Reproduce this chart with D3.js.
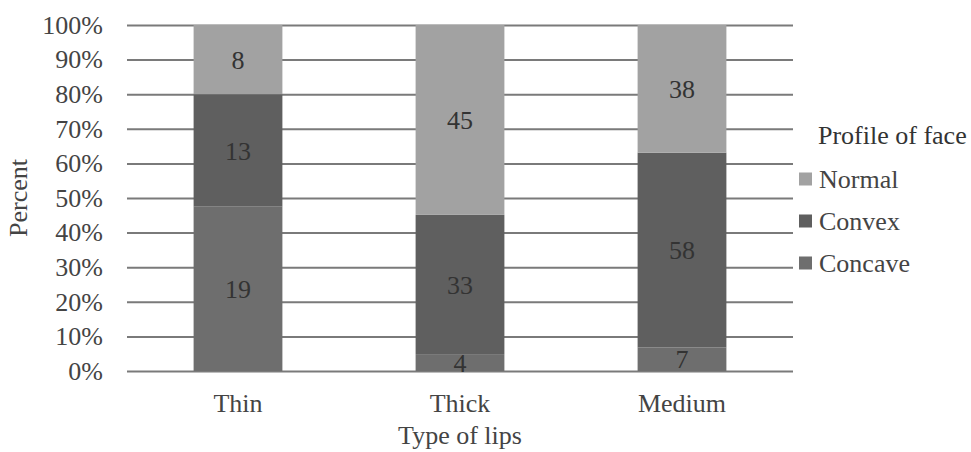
<!DOCTYPE html>
<html><head><meta charset="utf-8">
<script src="https://cdn.jsdelivr.net/npm/d3@7"></script>
<style>body{margin:0;background:#fff}svg{display:block}text{font-family:"Liberation Serif","Times New Roman",serif}</style>
</head><body>
<svg id="c" width="971" height="452"></svg>
<script>
const categories = ["Thin", "Thick", "Medium"];
const seriesNames = ["Concave", "Convex", "Normal"];
const concave = [19, 4, 7];
const convex = [13, 33, 58];
const normal = [8, 45, 38];
const tickLabels = ["0%","10%","20%","30%","40%","50%","60%","70%","80%","90%","100%"];
const colors = {Concave: "#6e6e6e", Convex: "#5f5f5f", Normal: "#a2a2a2"};

(function(){
const svg = d3.select("#c");
const pL = 127, pR = 793, pT = 25, pB = 371;
const fs = 26;
const x = d3.scaleBand().domain(categories).range([pL, pR]).paddingInner(0.6).paddingOuter(0.3);
const y = d3.scaleLinear().domain([0, 1]).range([pB, pT]);

const rows = categories.map((c, i) => ({cat: c, Concave: concave[i], Convex: convex[i], Normal: normal[i]}));
const stack = d3.stack().keys(seriesNames).offset(d3.stackOffsetExpand);
const layers = stack(rows);

const yAxis = d3.axisLeft(y).tickValues(d3.range(0, 1.0001, 0.1)).tickFormat((d, i) => tickLabels[i]).tickSize(-(pR - pL)).tickPadding(24);
const ga = svg.append("g").attr("transform", `translate(${pL},0)`).call(yAxis);
ga.select(".domain").remove();
ga.selectAll(".tick line").attr("stroke", "#7a7a7a").attr("stroke-width", 2);
ga.selectAll(".tick text").attr("font-size", fs).attr("fill", "#444").attr("x", -24);

layers.forEach(layer => {
  svg.append("g").selectAll("rect").data(layer).join("rect")
    .attr("x", d => x(d.data.cat))
    .attr("width", x.bandwidth())
    .attr("y", d => y(d[1]))
    .attr("height", d => y(d[0]) - y(d[1]))
    .attr("fill", colors[layer.key]);
  svg.append("g").selectAll("text").data(layer).join("text")
    .attr("x", d => x(d.data.cat) + x.bandwidth() / 2)
    .attr("y", d => (y(d[0]) + y(d[1])) / 2)
    .attr("dy", "0.35em")
    .attr("text-anchor", "middle")
    .attr("font-size", fs)
    .attr("fill", "#333")
    .text(d => d.data[layer.key]);
});

const xAxis = d3.axisBottom(x).tickSize(0).tickPadding(23);
const gx = svg.append("g").attr("transform", `translate(0,${pB})`).call(xAxis);
gx.select(".domain").remove();
gx.selectAll(".tick text").attr("font-size", fs).attr("fill", "#444");

svg.append("text").attr("x", (pL + pR) / 2).attr("y", 444).attr("text-anchor", "middle")
  .attr("font-size", fs).attr("fill", "#444").text("Type of lips");
svg.append("text").attr("transform", `translate(27,${(pT + pB) / 2}) rotate(-90)`).attr("text-anchor", "middle")
  .attr("font-size", fs).attr("fill", "#444").text("Percent");

const lg = svg.append("g");
lg.append("text").attr("x", 818).attr("y", 135).attr("dy", "0.35em").attr("font-size", fs).attr("fill", "#333").text("Profile of face");
const legendOrder = ["Normal", "Convex", "Concave"];
legendOrder.forEach((k, i) => {
  const cy = 179 + i * 42;
  lg.append("rect").attr("x", 799).attr("y", cy - 6.5).attr("width", 13).attr("height", 13).attr("fill", colors[k]);
  lg.append("text").attr("x", 819).attr("y", cy).attr("dy", "0.35em").attr("font-size", fs).attr("fill", "#444").text(k);
});
})();
</script>
</body></html>
